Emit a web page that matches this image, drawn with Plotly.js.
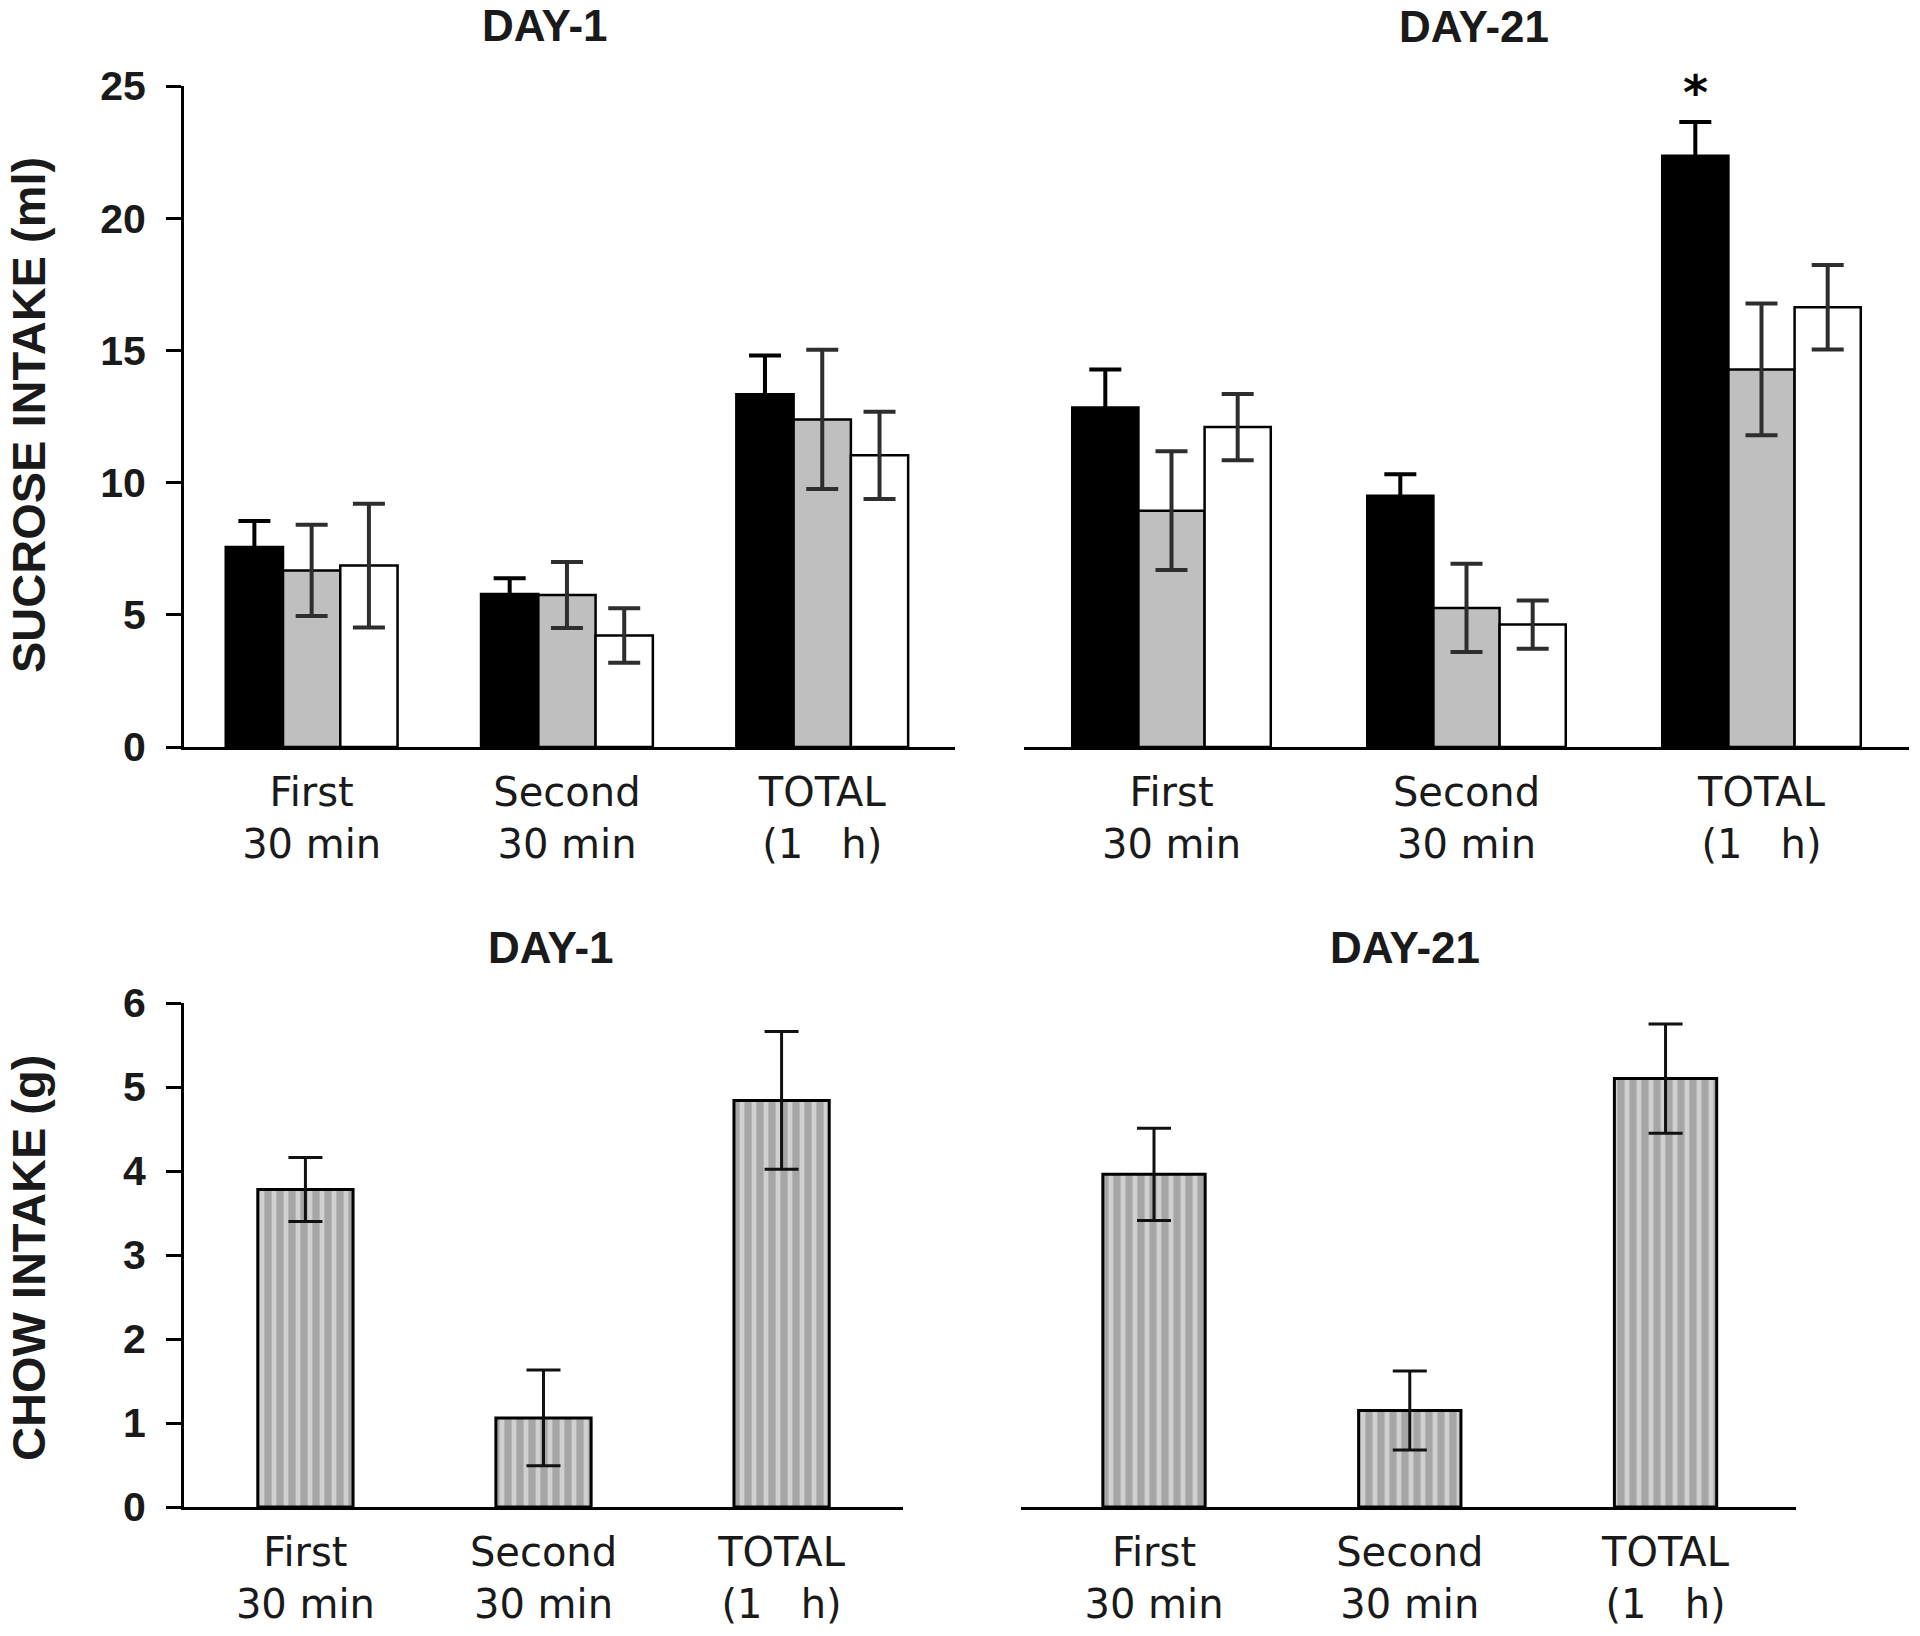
<!DOCTYPE html>
<html>
<head>
<meta charset="utf-8">
<script src="https://cdn.plot.ly/plotly-3.0.1.min.js"></script>
<style>html,body{margin:0;padding:0;background:#fff;}#chart{width:1920px;height:1636px;}</style>
</head>
<body>
<div id="chart"></div>
<script>
// ---- Data ----
const categories = ["First<br>30 min", "Second<br>30 min", "TOTAL<br>(1\u00a0\u00a0 h)"];

// Sucrose intake (ml), DAY-1
const sucD1Black = [7.56, 5.79, 13.34];
const sucD1BlackErr = [0.99, 0.59, 1.47];
const sucD1Gray = [6.68, 5.75, 12.39];
const sucD1GrayErr = [1.73, 1.25, 2.63];
const sucD1White = [6.86, 4.22, 11.03];
const sucD1WhiteErr = [2.34, 1.03, 1.65];

// Sucrose intake (ml), DAY-21
const sucD21Black = [12.84, 9.50, 22.36];
const sucD21BlackErr = [1.44, 0.82, 1.28];
const sucD21Gray = [8.94, 5.26, 14.28];
const sucD21GrayErr = [2.25, 1.67, 2.49];
const sucD21White = [12.10, 4.63, 16.63];
const sucD21WhiteErr = [1.25, 0.91, 1.60];

// Chow intake (g)
const chowD1 = [3.78, 1.06, 4.84];
const chowD1Err = [0.38, 0.57, 0.82];
const chowD21 = [3.96, 1.15, 5.10];
const chowD21Err = [0.55, 0.47, 0.65];

const sucroseTicks = [0, 5, 10, 15, 20, 25];
const chowTicks = [0, 1, 2, 3, 4, 5, 6];

// ---- Styles ----
const boldFont = {family: "Liberation Sans, Arial, sans-serif", weight: "bold", color: "#1a1a1a"};
const catFont = {family: "DejaVu Sans, Verdana, sans-serif", size: 40, color: "#1a1a1a"};
function topErr(arr, onBlack) {
  return {type: "data", array: arr, visible: true, color: onBlack ? "#000" : "#2e2e2e", thickness: 4, width: 16};
}
const botErr = (arr) => ({type: "data", array: arr, visible: true, color: "#111", thickness: 3, width: 17});

function sucTrace(y, err, color, xa, ya) {
  return {type: "bar", x: categories, y: y, xaxis: xa, yaxis: ya,
    marker: {color: color, line: {color: "#000", width: 2.5}},
    error_y: topErr(err, color === "#000000"), showlegend: false, hoverinfo: "skip"};
}
function chowTrace(y, err, xa, ya) {
  return {type: "bar", x: categories, y: y, xaxis: xa, yaxis: ya, width: 0.4,
    marker: {color: "#a8a8a8", line: {color: "#000", width: 3},
      pattern: {shape: "|", size: 12, solidity: 0.4, fgcolor: "#d0d0d0", bgcolor: "#a6a6a6", fillmode: "replace"}},
    error_y: botErr(err), showlegend: false, hoverinfo: "skip"};
}

const data = [
  sucTrace(sucD1Black, sucD1BlackErr, "#000000", "x", "y"),
  sucTrace(sucD1Gray, sucD1GrayErr, "#bfbfbf", "x", "y"),
  sucTrace(sucD1White, sucD1WhiteErr, "#ffffff", "x", "y"),
  sucTrace(sucD21Black, sucD21BlackErr, "#000000", "x2", "y2"),
  sucTrace(sucD21Gray, sucD21GrayErr, "#bfbfbf", "x2", "y2"),
  sucTrace(sucD21White, sucD21WhiteErr, "#ffffff", "x2", "y2"),
  chowTrace(chowD1, chowD1Err, "x3", "y3"),
  chowTrace(chowD21, chowD21Err, "x4", "y4")
];

const W = 1920, H = 1636;
const px = (v) => v / W;
const py = (v) => 1 - v / H;

function xAxis(d0, d1, r, anchor) {
  return {domain: [px(d0), px(d1)], range: r, type: "category", anchor: anchor,
    showline: true, linecolor: "#000", linewidth: 3, ticks: "", showgrid: false, zeroline: false,
    tickfont: catFont, ticklabelstandoff: 8, fixedrange: true};
}
function yAxis(top, bottom, range, ticks, visible, anchor) {
  return {domain: [py(bottom), py(top)], range: range, anchor: anchor, visible: visible,
    showline: true, linecolor: "#000", linewidth: 3, ticks: "outside", ticklen: 15, tickwidth: 3,
    tickcolor: "#000", tickvals: ticks, showgrid: false, zeroline: false,
    tickfont: Object.assign({size: 41}, boldFont), ticklabelstandoff: 12, fixedrange: true};
}

const layout = {
  width: W, height: H,
  margin: {l: 0, r: 0, t: 0, b: 0},
  paper_bgcolor: "#fff", plot_bgcolor: "#fff",
  barmode: "group", bargap: 0.327, bargroupgap: 0,
  showlegend: false,
  xaxis: xAxis(184, 955, [-0.5, 2.52], "y"),
  yaxis: yAxis(86, 747, [0, 25], sucroseTicks, true, "x"),
  xaxis2: xAxis(1024, 1909, [-0.5, 2.5], "y2"),
  yaxis2: yAxis(86, 747, [0, 25], sucroseTicks, false, "x2"),
  xaxis3: xAxis(184, 903, [-0.51, 2.51], "y3"),
  yaxis3: yAxis(1003, 1507, [0, 6], chowTicks, true, "x3"),
  xaxis4: xAxis(1021, 1796, [-0.52, 2.51], "y4"),
  yaxis4: yAxis(1003, 1507, [0, 6], chowTicks, false, "x4"),
  annotations: [
    {text: "DAY-1", xref: "paper", yref: "paper", x: px(545), y: py(26), xanchor: "center", yanchor: "middle", showarrow: false, font: Object.assign({size: 44}, boldFont)},
    {text: "DAY-21", xref: "paper", yref: "paper", x: px(1474), y: py(27), xanchor: "center", yanchor: "middle", showarrow: false, font: Object.assign({size: 44}, boldFont)},
    {text: "DAY-1", xref: "paper", yref: "paper", x: px(551), y: py(948), xanchor: "center", yanchor: "middle", showarrow: false, font: Object.assign({size: 44}, boldFont)},
    {text: "DAY-21", xref: "paper", yref: "paper", x: px(1405), y: py(948), xanchor: "center", yanchor: "middle", showarrow: false, font: Object.assign({size: 44}, boldFont)},
    {text: "SUCROSE INTAKE (ml)", xref: "paper", yref: "paper", x: px(28), y: py(415), textangle: -90, xanchor: "center", yanchor: "middle", showarrow: false, font: Object.assign({size: 47}, boldFont)},
    {text: "CHOW INTAKE (g)", xref: "paper", yref: "paper", x: px(28), y: py(1258), textangle: -90, xanchor: "center", yanchor: "middle", showarrow: false, font: Object.assign({size: 47}, boldFont)},
    {text: "*", xref: "x2", yref: "y2", x: 1.776, y: 24.77, xanchor: "center", yanchor: "middle", showarrow: false, font: {family: "DejaVu Sans, sans-serif", weight: "bold", size: 48, color: "#000"}}
  ]
};

Plotly.newPlot("chart", data, layout, {staticPlot: true, displayModeBar: false});
</script>
</body>
</html>
